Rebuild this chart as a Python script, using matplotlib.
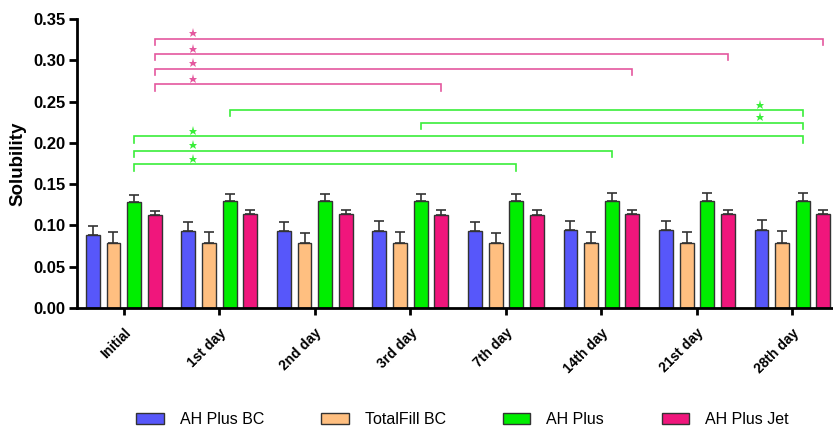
import numpy as np
import matplotlib
matplotlib.use('Agg')
import matplotlib.pyplot as plt

plt.rcParams['font.family'] = ['Liberation Sans', 'DejaVu Sans']

# Data
days = ['Initial', '1st day', '2nd day', '3rd day', '7th day', '14th day', '21st day', '28th day']
groups = ['AH Plus BC', 'TotalFill BC', 'AH Plus', 'AH Plus Jet']
colors = ['#5757FA', '#FFBF80', '#00EE00', '#F0167C']

ah_plus_bc = [0.088, 0.093, 0.093, 0.0935, 0.0935, 0.094, 0.094, 0.094]
totalfill_bc = [0.079, 0.079, 0.079, 0.078, 0.078, 0.079, 0.079, 0.079]
ah_plus = [0.128, 0.129, 0.129, 0.129, 0.129, 0.130, 0.130, 0.130]
ah_plus_jet = [0.112, 0.114, 0.114, 0.113, 0.113, 0.114, 0.114, 0.114]

ah_plus_bc_sd = [0.0114, 0.011, 0.011, 0.0115, 0.0105, 0.011, 0.011, 0.012]
totalfill_bc_sd = [0.013, 0.013, 0.012, 0.014, 0.013, 0.013, 0.013, 0.014]
ah_plus_sd = [0.0087, 0.009, 0.009, 0.009, 0.009, 0.009, 0.009, 0.009]
ah_plus_jet_sd = [0.0056, 0.005, 0.005, 0.006, 0.006, 0.005, 0.005, 0.005]

means = [ah_plus_bc, totalfill_bc, ah_plus, ah_plus_jet]
sds = [ah_plus_bc_sd, totalfill_bc_sd, ah_plus_sd, ah_plus_jet_sd]

# significance brackets: (series index, from day, to day, height, star x)
pink_brackets = [(3, 0, 7, 0.3265, 0.72), (3, 0, 6, 0.308, 0.72),
                 (3, 0, 5, 0.290, 0.72), (3, 0, 3, 0.271, 0.72)]
green_brackets = [(2, 1, 7, 0.240, 6.66), (2, 3, 7, 0.2245, 6.66),
                  (2, 0, 7, 0.208, 0.72), (2, 0, 5, 0.1905, 0.72),
                  (2, 0, 4, 0.174, 0.72)]
bracket_colors = {2: '#3AEE3A', 3: '#E4589E'}

fig = plt.figure(figsize=(8.33, 4.28), dpi=100)
ax = fig.add_axes([0.0924, 0.281, 0.907, 0.674])

x = np.arange(len(days))
pitch = 0.2155
width = 0.146
offsets = (np.arange(4) - 1.5) * pitch

for i in range(4):
    ax.bar(x + offsets[i], means[i], width, color=colors[i], edgecolor='#333333',
           linewidth=1.0, zorder=2)
    ax.errorbar(x + offsets[i], means[i], yerr=[np.zeros(len(days)), sds[i]],
                fmt='none', ecolor='#333333', elinewidth=1.2, capsize=3.5,
                capthick=1.2, zorder=1)

drop = 0.0077
for s, a, b, h, sx in pink_brackets + green_brackets:
    xa = a + offsets[s]
    xb = b + offsets[s]
    c = bracket_colors[s]
    ax.plot([xa, xa, xb, xb], [h - drop, h, h, h - drop], color=c, lw=1.2,
            clip_on=False, solid_joinstyle='miter')
    ax.plot(sx, h + 0.0065, marker='*', color=c, markersize=6.5,
            markeredgewidth=0, clip_on=False)

ax.set_xlim(-0.49, 7.42)
ax.set_ylim(0, 0.35)
ax.set_yticks(np.arange(0, 0.351, 0.05))
ax.set_yticklabels([f'{v:.2f}' for v in np.arange(0, 0.351, 0.05)],
                   fontsize=12, fontweight='bold')
ax.set_xticks(x)
ax.set_xticklabels(days, rotation=45, ha='right', rotation_mode='anchor',
                   fontsize=10, fontweight='bold')
ax.tick_params(axis='y', length=6, width=2, pad=2)
ax.tick_params(axis='x', length=5, width=2, pad=8)
ax.set_ylabel('Solubility', fontsize=13.5, fontweight='bold', labelpad=5)

for side in ['top', 'right']:
    ax.spines[side].set_visible(False)
for side in ['left', 'bottom']:
    ax.spines[side].set_linewidth(2)

handles = [plt.Rectangle((0, 0), 1, 1, facecolor=c, edgecolor='#333333', lw=1.0)
           for c in colors]
fig.legend(handles, groups, loc='center', bbox_to_anchor=(0.555, 0.02), ncol=4,
           frameon=False, fontsize=11.5, handlelength=1.7, handleheight=0.65,
           handletextpad=1.0, columnspacing=3.6, borderpad=0)

fig.savefig('out.png', dpi=100)
